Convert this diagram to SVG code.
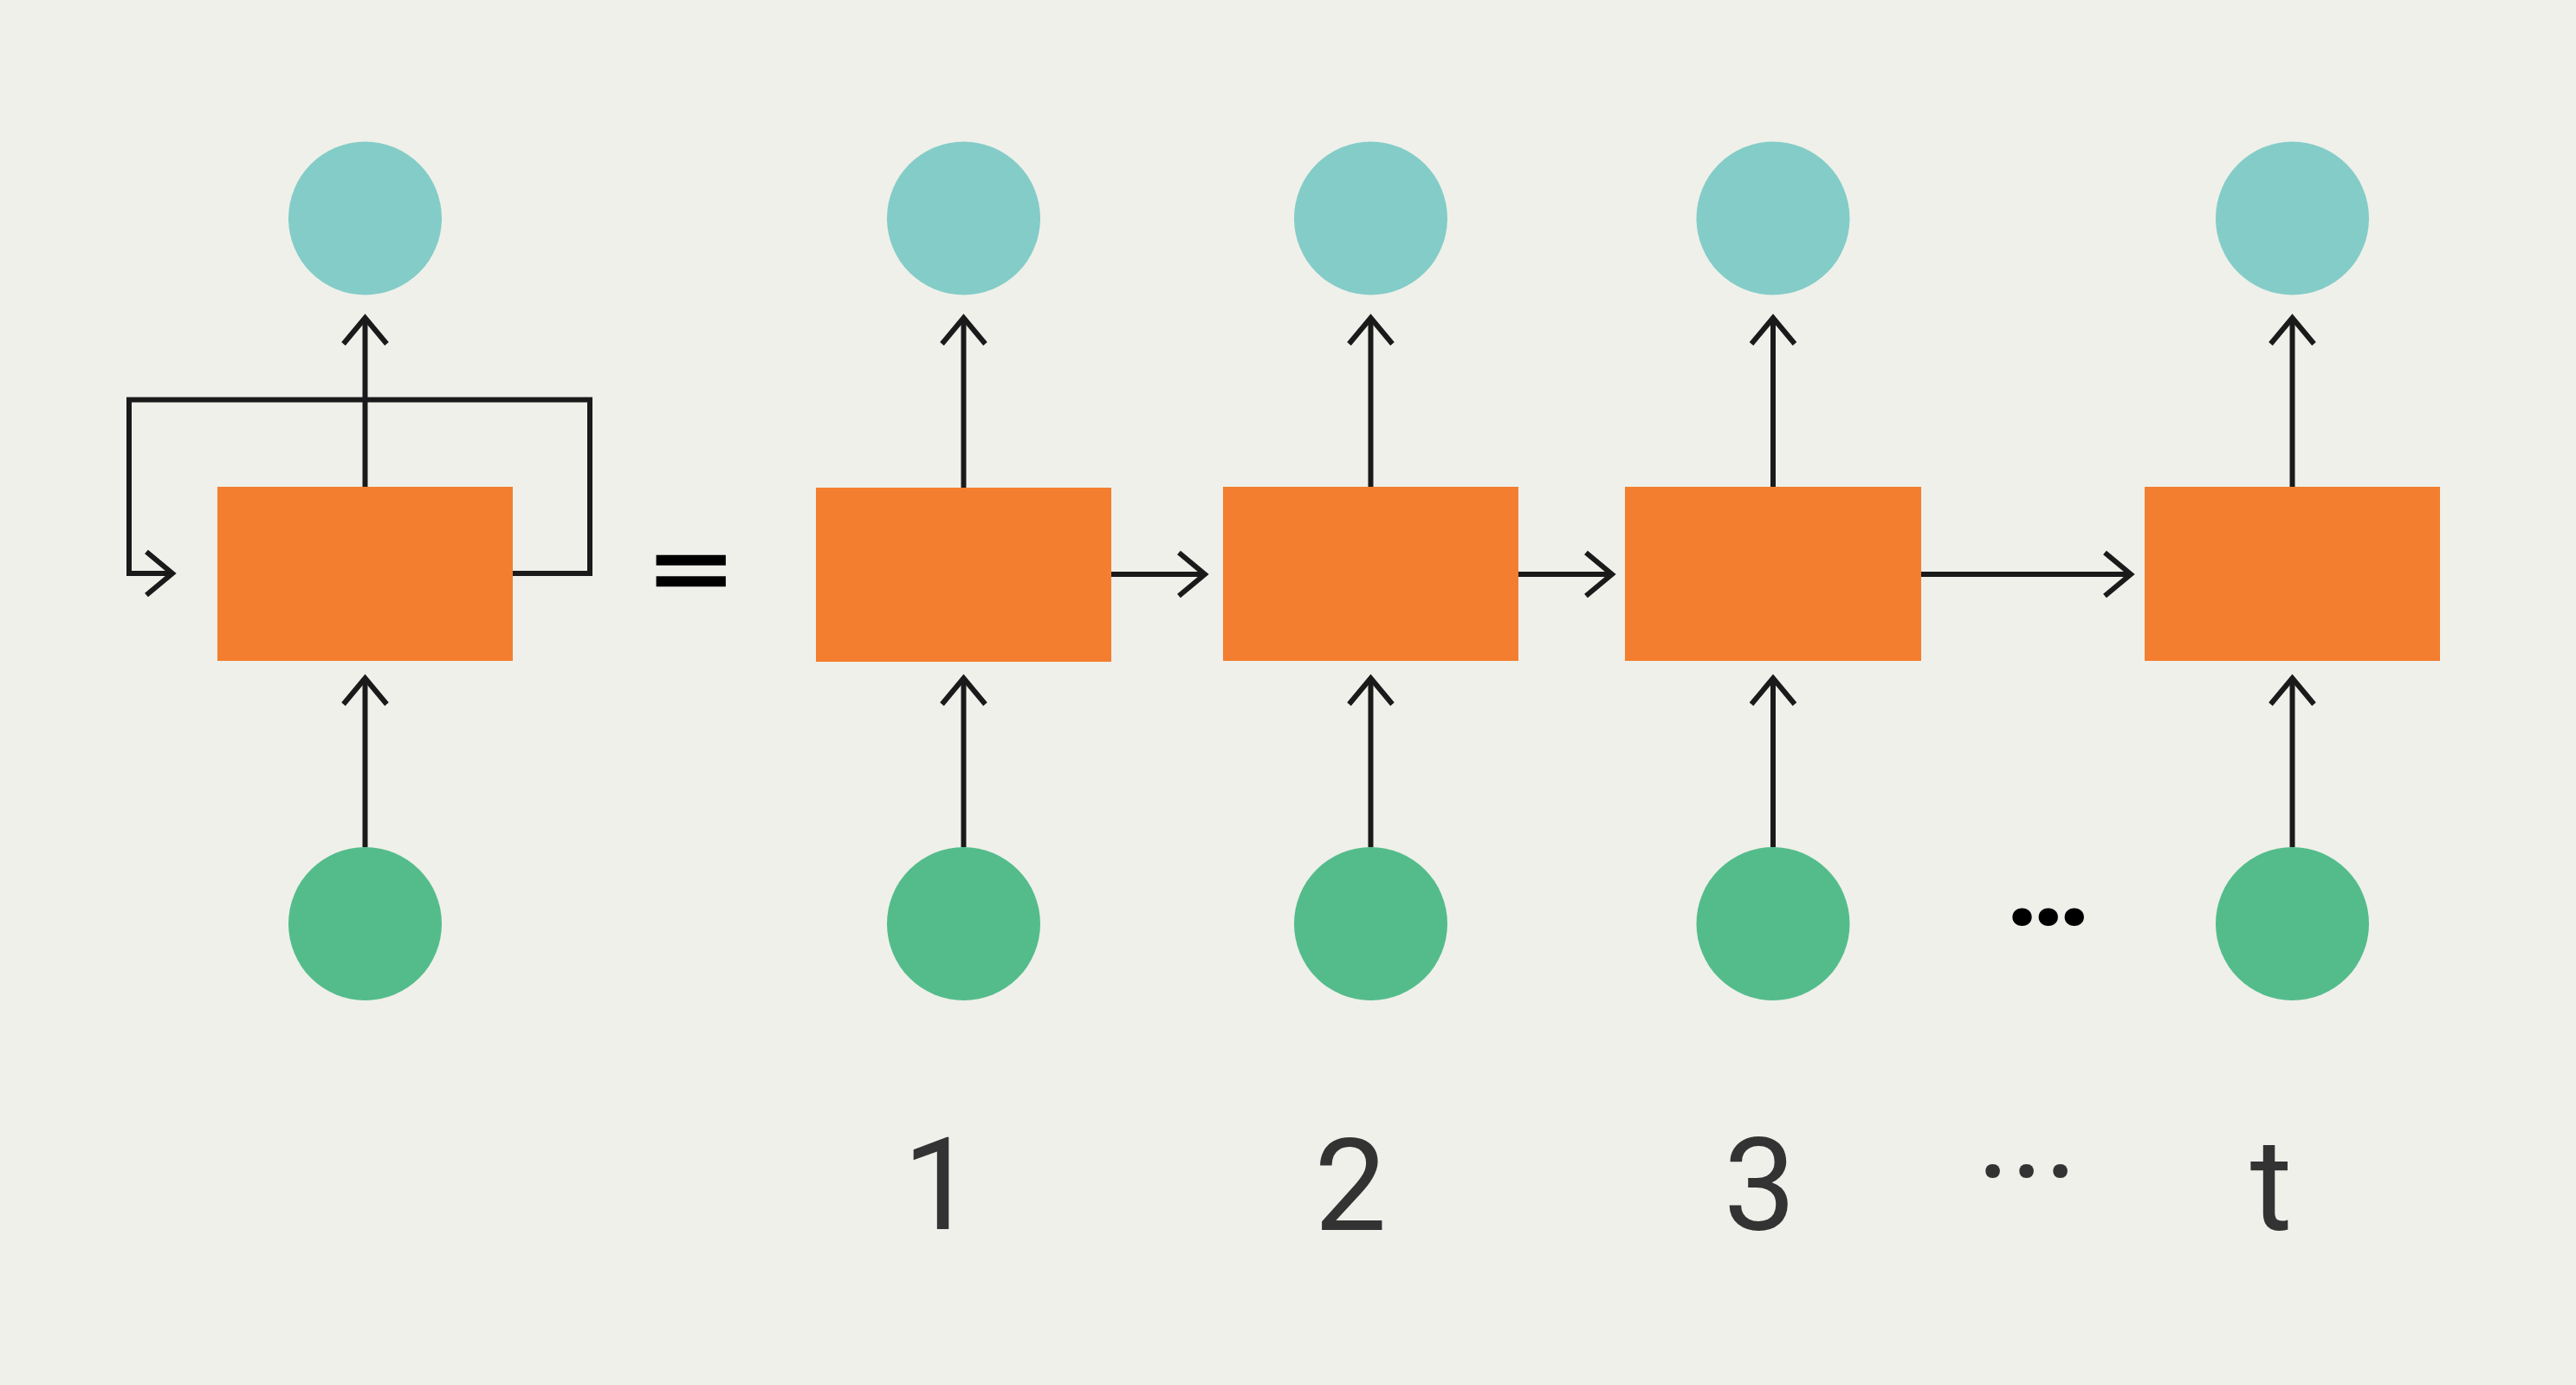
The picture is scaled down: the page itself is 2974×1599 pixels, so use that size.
<svg xmlns="http://www.w3.org/2000/svg" width="2974" height="1599" viewBox="0 0 2974 1599">
<style>
.bg{fill:#EFF0EA}
.out{fill:#84CCC8}
.in{fill:#54BC8B}
.cell{fill:#F47E2F}
.wire{fill:none;stroke:#1A1A1A;stroke-width:6}
.lbl{font-family:Roboto,"Liberation Sans",Arial,sans-serif;font-size:149px;fill:#333333}
.eq{font-family:Roboto,"Liberation Sans",Arial,sans-serif;font-size:160px;fill:#000000;stroke:#000000;stroke-width:3.5}
.dots{font-family:Roboto,"Liberation Sans",Arial,sans-serif;font-size:140px;font-weight:bold;fill:#000000}
</style>
<defs>
<marker id="ah" markerUnits="userSpaceOnUse" markerWidth="80" markerHeight="80" viewBox="-40 -40 80 80" refX="0" refY="0" orient="auto">
<path d="M -30 -25 L 0 0 L -30 25" fill="none" stroke="#1A1A1A" stroke-width="6"/>
</marker>
</defs>
<rect class="bg" x="0" y="0" width="2974" height="1599"/>
<g id="connectors">
<path class="wire" d="M 421.5 562 V 367" marker-end="url(#ah)"/>
<path class="wire" d="M 421.5 978 V 783" marker-end="url(#ah)"/>
<path class="wire" d="M 592 662 H 681 V 461.5 H 149 V 662 H 199" marker-end="url(#ah)"/>
<path class="wire" d="M 1112.5 563 V 367" marker-end="url(#ah)"/>
<path class="wire" d="M 1112.5 978 V 783" marker-end="url(#ah)"/>
<path class="wire" d="M 1582.5 562 V 367" marker-end="url(#ah)"/>
<path class="wire" d="M 1582.5 978 V 783" marker-end="url(#ah)"/>
<path class="wire" d="M 2047 562 V 367" marker-end="url(#ah)"/>
<path class="wire" d="M 2047 978 V 783" marker-end="url(#ah)"/>
<path class="wire" d="M 2646.5 562 V 367" marker-end="url(#ah)"/>
<path class="wire" d="M 2646.5 978 V 783" marker-end="url(#ah)"/>
<path class="wire" d="M 1283 663 H 1391" marker-end="url(#ah)"/>
<path class="wire" d="M 1753 663 H 1861" marker-end="url(#ah)"/>
<path class="wire" d="M 2218 663 H 2460" marker-end="url(#ah)"/>
</g>
<g id="folded">
<circle class="out" cx="421.5" cy="252" r="88.5"/>
<rect class="cell" x="251" y="562" width="341" height="201"/>
<circle class="in" cx="421.5" cy="1066.5" r="88.5"/>
</g>
<text class="eq" x="0" y="0" text-anchor="middle" transform="translate(797 700) scale(1.17 0.75)">=</text>
<g id="step1">
<circle class="out" cx="1112.5" cy="252" r="88.5"/>
<rect class="cell" x="942" y="563" width="341" height="201"/>
<circle class="in" cx="1112.5" cy="1066.5" r="88.5"/>
</g>
<g id="step2">
<circle class="out" cx="1582.5" cy="252" r="88.5"/>
<rect class="cell" x="1412" y="562" width="341" height="201"/>
<circle class="in" cx="1582.5" cy="1066.5" r="88.5"/>
</g>
<g id="step3">
<circle class="out" cx="2047" cy="252" r="88.5"/>
<rect class="cell" x="1876" y="562" width="342" height="201"/>
<circle class="in" cx="2047" cy="1066.5" r="88.5"/>
</g>
<g id="stept">
<circle class="out" cx="2646.5" cy="252" r="88.5"/>
<rect class="cell" x="2476" y="562" width="341" height="201"/>
<circle class="in" cx="2646.5" cy="1066.5" r="88.5"/>
</g>
<text class="dots" x="2360" y="1068" text-anchor="middle" letter-spacing="-10.5">...</text>
<g id="labels">
<text class="lbl" x="1084" y="1419" text-anchor="middle">1</text>
<text class="lbl" x="1559" y="1420" text-anchor="middle">2</text>
<text class="lbl" x="2031.5" y="1420" text-anchor="middle">3</text>
<text class="lbl" x="2340" y="1405" text-anchor="middle">···</text>
<text class="lbl" x="2622" y="1420" text-anchor="middle">t</text>
</g>
</svg>
